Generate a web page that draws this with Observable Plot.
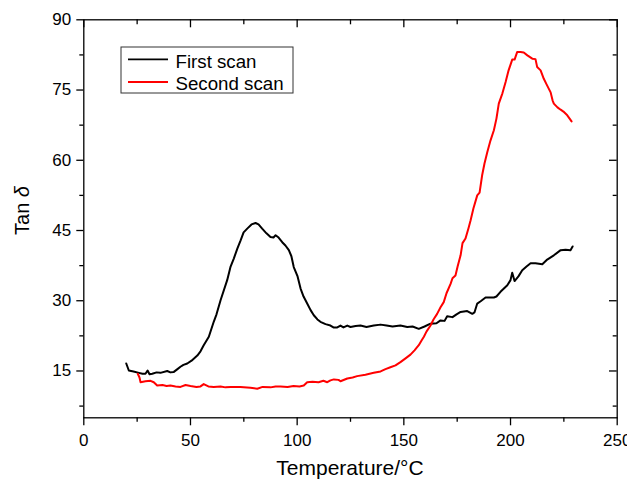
<!DOCTYPE html>
<html>
<head>
<meta charset="utf-8">
<script src="https://cdn.jsdelivr.net/npm/d3@7"></script>
<script src="https://cdn.jsdelivr.net/npm/@observablehq/plot@0.6"></script>
<style>
  html, body { margin: 0; padding: 0; background: #fff; }
  #chart svg { display: block; }
</style>
</head>
<body>
<div id="chart"></div>
<script>
// ---- Data ----
const seriesNames = ["First scan", "Second scan"];
const seriesColors = ["#000000", "#ff0000"];

const firstTemp = [19.9,21.1,23.3,25.8,27.5,28.9,29.9,30.8,32.1,34.1,35.9,39.1,40.6,42.2,43.9,45.3,46.7,48.5,50.5,53.2,54.7,56.2,58.6,60.9,62.2,64.1,67.2,68.8,70.3,72.0,73.5,74.9,76.6,78.6,80.5,81.9,83.6,85.6,87.5,88.9,89.9,91.3,93.0,94.5,96.1,97.3,98.4,100.2,101.6,103.0,104.7,106.3,107.8,109.5,110.9,113.3,115.6,117.0,118.8,120.3,121.7,123.5,125.0,127.4,129.7,132.5,135.9,139.1,141.9,144.7,148.4,151.6,154.1,157.0,159.7,162.5,165.3,167.2,169.1,170.3,172.8,174.7,176.6,179.7,182.1,183.1,184.4,186.0,188.3,192.2,193.4,195.3,198.5,200.0,200.8,201.9,203.7,205.5,207.5,209.4,211.7,214.9,217.2,220.3,223.5,225.8,228.1,229.1];
const firstTan = [16.6,15.1,14.9,14.6,14.4,14.4,15.1,14.3,14.4,14.7,14.6,15.0,14.7,14.8,15.4,15.9,16.3,16.6,17.2,18.3,19.2,20.5,22.3,25.5,27.1,30.1,34.4,37.3,39.0,41.2,42.9,44.6,45.4,46.3,46.6,46.3,45.4,44.4,43.6,43.5,44.0,43.5,42.5,41.8,40.8,39.5,37.2,35.2,32.6,30.9,29.4,28.0,26.9,26.0,25.5,25.0,24.7,24.3,24.3,24.7,24.3,24.7,24.4,24.6,24.7,24.4,24.7,24.9,24.7,24.5,24.7,24.4,24.5,24.0,24.5,25.1,25.2,25.8,25.7,26.7,26.5,27.1,27.6,27.8,27.2,27.5,29.4,29.9,30.7,30.7,30.9,31.9,33.3,34.4,36.0,34.2,35.2,36.5,37.3,38.0,38.0,37.8,38.8,39.7,40.8,40.9,40.8,41.6];

const secondTemp = [25.3,26.1,26.6,28.9,31.3,32.8,34.4,36.9,38.8,40.6,43.0,45.3,47.7,50.0,52.8,54.7,56.2,58.4,60.9,64.1,66.4,68.8,73.4,78.1,81.3,83.8,87.5,89.9,92.2,95.5,98.3,101.1,103.1,104.7,107.2,110.0,112.3,114.1,115.6,117.2,119.4,120.3,123.5,126.0,128.1,132.0,135.9,139.1,141.4,143.7,146.1,148.4,150.8,153.1,155.0,157.0,158.3,159.4,160.6,162.5,163.9,165.6,167.2,168.7,170.0,171.9,172.8,174.2,175.2,176.6,177.5,178.9,180.3,181.3,182.6,184.4,185.5,186.7,187.8,189.1,190.6,192.2,193.4,194.5,196.2,197.7,199.1,200.8,201.9,203.1,204.7,206.2,207.9,210.2,211.7,212.5,214.1,215.6,216.9,218.8,219.7,220.3,222.0,223.5,224.8,226.6,227.7,228.6];
const secondTan = [14.4,13.6,12.6,12.8,12.9,12.6,11.9,12.0,11.8,11.9,11.7,11.6,12.0,11.8,11.6,11.7,12.2,11.7,11.6,11.7,11.5,11.6,11.6,11.4,11.2,11.6,11.5,11.7,11.7,11.6,11.8,11.7,11.9,12.6,12.7,12.6,12.9,12.6,13.0,13.2,13.1,12.8,13.4,13.6,13.9,14.2,14.6,14.9,15.4,15.8,16.2,16.9,17.7,18.5,19.4,20.5,21.5,22.3,23.4,24.7,26.0,27.2,28.6,29.7,31.6,33.6,34.8,35.4,37.3,39.7,42.3,43.3,45.5,47.2,49.7,52.5,53.1,56.8,59.3,61.7,64.2,66.4,68.9,72.1,74.3,76.7,79.2,81.5,81.5,83.1,83.1,83.0,82.4,81.7,81.6,79.9,79.2,77.4,76.2,74.5,72.8,72.1,71.3,70.8,70.4,69.6,68.9,68.3];

const xMajorTicks = [0, 50, 100, 150, 200, 250];
const xMinorTicks = [25, 75, 125, 175, 225];
const yMajorTicks = [15, 30, 45, 60, 75, 90];
const yMinorTicks = [7.5, 22.5, 37.5, 52.5, 67.5, 82.5];
const xDomain = [0, 250];
const yDomain = [5, 90];
const xLabel = "Temperature/°C";
const yLabelMain = "Tan ";
const yLabelSymbol = "δ";

// ---- Build table ----
const rows = [];
firstTemp.forEach((t, i) => rows.push({series: seriesNames[0], temp: t, tan: firstTan[i]}));
secondTemp.forEach((t, i) => rows.push({series: seriesNames[1], temp: t, tan: secondTan[i]}));

// ---- Layout ----
const W = 627, H = 480;
const mL = 83.3, mR = 10.3, mT = 19.3, mB = 62.7;
const plotW = W - mL - mR, plotH = H - mT - mB;
const font = "'Liberation Sans', Arial, Helvetica, sans-serif";

const chart = Plot.plot({
  width: W,
  height: H,
  marginLeft: mL,
  marginRight: mR,
  marginTop: mT,
  marginBottom: mB,
  style: {fontFamily: font, fontSize: "17px", background: "#fff", color: "#000", overflow: "visible"},
  x: {domain: xDomain},
  y: {domain: yDomain},
  color: {domain: seriesNames, range: seriesColors},
  marks: [
    // bottom axis (outward ticks)
    Plot.axisX(xMajorTicks, {anchor: "bottom", tickSize: 8, tickPadding: 8.2, tickFormat: d => String(d), label: null, strokeWidth: 1.3, fontSize: 17}),
    Plot.axisX(xMinorTicks, {anchor: "bottom", tickSize: 4.5, tickFormat: null, text: null, label: null, strokeWidth: 1.3}),
    // left axis (outward ticks)
    Plot.axisY(yMajorTicks, {anchor: "left", tickSize: 7, tickPadding: 5.6, tickFormat: d => String(d), label: null, strokeWidth: 1.3, fontSize: 17}),
    Plot.axisY(yMinorTicks, {anchor: "left", tickSize: 4, tickFormat: null, text: null, label: null, strokeWidth: 1.3}),
    // top axis (inward ticks)
    Plot.tickX(xMajorTicks, {x: d => d, insetBottom: plotH - 8, strokeWidth: 1.3}),
    Plot.tickX(xMinorTicks, {x: d => d, insetBottom: plotH - 5, strokeWidth: 1.3}),
    // right axis (inward ticks)
    Plot.tickY(yMajorTicks, {y: d => d, insetLeft: plotW - 7.7, strokeWidth: 1.3}),
    Plot.tickY(yMinorTicks, {y: d => d, insetLeft: plotW - 4, strokeWidth: 1.3}),
    Plot.frame({stroke: "#000", strokeWidth: 1.3}),
    Plot.line(rows, {x: "temp", y: "tan", z: "series", stroke: "series", strokeWidth: 2, strokeLinejoin: "round"})
  ]
});

const svg = d3.select(chart);

// axis titles
svg.append("text")
  .attr("x", mL + plotW / 2).attr("y", 475)
  .attr("text-anchor", "middle")
  .style("font-family", font).style("font-size", "21px").attr("fill", "#000")
  .text(xLabel);

const yl = svg.append("text")
  .attr("transform", "translate(29.3,210.5) rotate(-90)")
  .attr("text-anchor", "middle")
  .style("font-family", font).style("font-size", "20px").attr("fill", "#000");
yl.append("tspan").text(yLabelMain);
yl.append("tspan").style("font-style", "italic").text(yLabelSymbol);

// legend
const lg = svg.append("g");
lg.append("rect").attr("x", 121).attr("y", 47).attr("width", 172).attr("height", 46)
  .attr("fill", "#fff").attr("stroke", "#333").attr("stroke-width", 1);
seriesNames.forEach((name, i) => {
  const yy = 59.3 + i * 22.7;
  lg.append("line").attr("x1", 128).attr("x2", 168).attr("y1", yy).attr("y2", yy)
    .attr("stroke", seriesColors[i]).attr("stroke-width", 1.8);
  lg.append("text").attr("x", 175.5).attr("y", yy + 8.4)
    .attr("text-anchor", "start")
    .style("font-family", font).style("font-size", "18.7px").attr("fill", "#000")
    .text(name);
});

document.getElementById("chart").appendChild(chart);
</script>
</body>
</html>
